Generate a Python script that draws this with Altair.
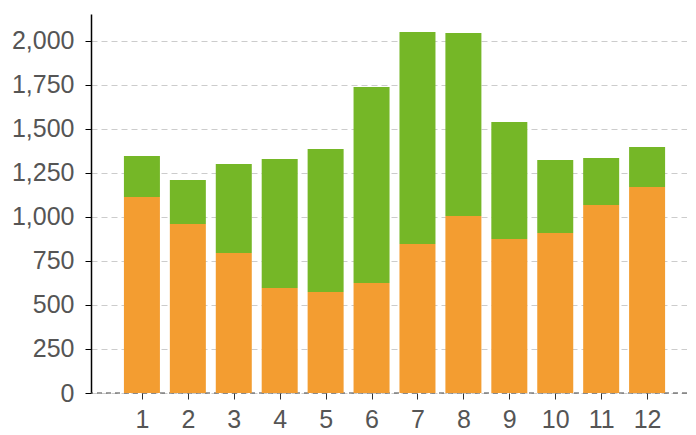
import altair as alt
import pandas as pd

months = [1, 2, 3, 4, 5, 6, 7, 8, 9, 10, 11, 12]
orange_vals = [1114, 960, 795, 597, 574, 625, 847, 1006, 875, 909, 1068, 1170]
totals = [1346, 1210, 1301, 1330, 1386, 1739, 2051, 2045, 1540, 1324, 1335, 1398]
green_vals = [t - o for t, o in zip(totals, orange_vals)]

rows = []
for m, o, g in zip(months, orange_vals, green_vals):
    rows.append({"month": m, "series": "A", "value": o, "ord": 0})
    rows.append({"month": m, "series": "B", "value": g, "ord": 1})
df = pd.DataFrame(rows)

FONT = "Liberation Sans"
YMAX = 2153

x_enc = alt.X(
    "month:Q",
    scale=alt.Scale(domain=[0, 12.76], nice=False, zero=False),
    axis=alt.Axis(
        values=months, format="d", title=None, grid=False, domain=False,
        tickColor="#333", tickSize=6, labelFontSize=25, labelColor="#555",
        labelFont=FONT, labelPadding=8, labelFlush=False,
    ),
)

bars = alt.Chart(df).mark_bar(size=36).encode(
    x=x_enc,
    y=alt.Y(
        "value:Q",
        stack="zero",
        scale=alt.Scale(domain=[0, YMAX], nice=False),
        axis=alt.Axis(
            values=[0, 250, 500, 750, 1000, 1250, 1500, 1750, 2000],
            format=",.0f", title=None, grid=True, gridColor="#cccccc",
            gridDash=[6, 4], gridWidth=1, domain=True, domainColor="#000",
            domainWidth=1.5, tickColor="#000", tickSize=6,
            labelFontSize=25, labelColor="#555", labelFont=FONT, labelPadding=11,
        ),
    ),
    color=alt.Color(
        "series:N",
        scale=alt.Scale(domain=["A", "B"], range=["#f39d31", "#75b727"]),
        legend=None,
    ),
    order=alt.Order("ord:Q"),
)

zero_df = pd.DataFrame({"y": [0]})
zero_rule = alt.Chart(zero_df).mark_rule(
    color="#444", strokeDash=[5, 4], strokeWidth=1.2
).encode(y=alt.Y("y:Q", scale=alt.Scale(domain=[0, YMAX], nice=False)))

chart = alt.layer(zero_rule, bars).properties(
    width=596, height=379,
    autosize=alt.AutoSizeParams(type="none"),
    padding={"left": 83, "top": 6, "right": 0, "bottom": 41},
).configure_view(stroke=None)

chart.save("out.html", embed_options={"renderer": "svg", "actions": False})
